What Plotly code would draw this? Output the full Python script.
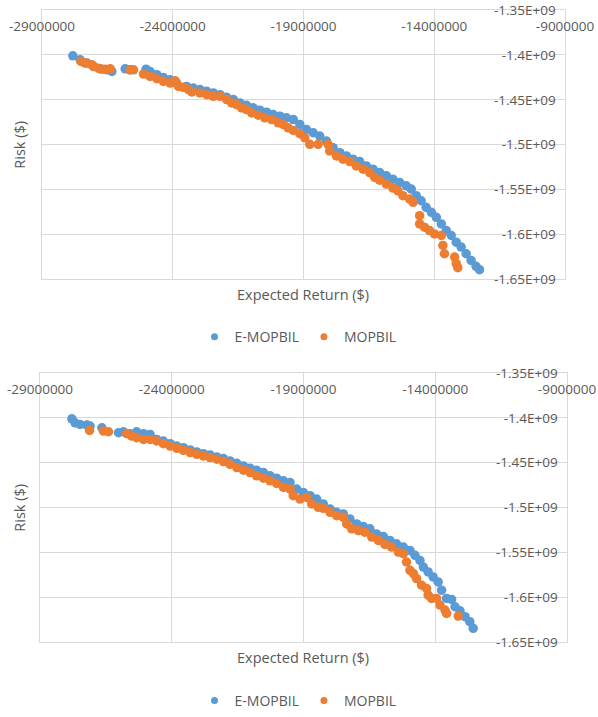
import plotly.graph_objects as go

# ---- upper panel: expected return ($) vs risk ($) ----
emop_ret_a = [-27.82e6, -27.54e6, -27.28e6, -27.03e6, -26.77e6, -26.52e6, -26.33e6, -25.82e6, -25.63e6,
              -25.02e6, -24.87e6, -24.61e6, -24.36e6, -24.10e6, -23.85e6, -23.47e6, -23.21e6, -22.96e6,
              -22.70e6, -22.45e6, -22.19e6, -21.94e6, -21.68e6, -21.43e6, -21.18e6, -20.92e6, -20.67e6,
              -20.41e6, -20.16e6, -19.90e6, -19.65e6, -19.39e6, -19.14e6, -18.89e6, -18.63e6, -18.38e6,
              -18.12e6, -17.87e6, -17.61e6, -17.36e6, -17.10e6, -16.85e6, -16.60e6, -16.34e6, -16.09e6,
              -15.83e6, -15.58e6, -15.32e6, -15.07e6, -14.88e6, -14.69e6, -14.50e6, -14.31e6, -14.11e6,
              -13.92e6, -13.73e6, -13.54e6, -13.35e6, -13.16e6, -12.97e6, -12.78e6, -12.59e6, -12.40e6,
              -12.27e6]
emop_risk_a = [-1.4011e9, -1.4055e9, -1.4092e9, -1.4129e9, -1.4155e9, -1.4166e9, -1.4185e9, -1.4155e9, -1.4166e9,
               -1.4159e9, -1.4185e9, -1.4221e9, -1.4251e9, -1.4277e9, -1.4314e9, -1.4351e9, -1.4369e9, -1.4387e9,
               -1.4406e9, -1.4424e9, -1.4443e9, -1.4472e9, -1.4498e9, -1.4535e9, -1.4561e9, -1.4590e9, -1.4616e9,
               -1.4638e9, -1.4664e9, -1.4683e9, -1.4701e9, -1.4720e9, -1.4775e9, -1.4830e9, -1.4867e9, -1.4904e9,
               -1.4959e9, -1.5033e9, -1.5089e9, -1.5125e9, -1.5162e9, -1.5188e9, -1.5236e9, -1.5273e9, -1.5310e9,
               -1.5347e9, -1.5384e9, -1.5421e9, -1.5458e9, -1.5494e9, -1.5568e9, -1.5624e9, -1.5697e9, -1.5753e9,
               -1.5808e9, -1.5882e9, -1.5956e9, -1.6011e9, -1.6085e9, -1.6140e9, -1.6214e9, -1.6288e9, -1.6354e9,
               -1.6391e9]

mop_ret_a = [-27.51e6, -27.35e6, -27.09e6, -27.03e6, -26.84e6, -26.71e6, -26.58e6, -26.39e6, -25.63e6,
             -25.50e6, -25.12e6, -24.87e6, -24.61e6, -24.36e6, -24.10e6, -23.91e6, -23.78e6, -23.59e6,
             -23.40e6, -23.27e6, -22.96e6, -22.70e6, -22.45e6, -22.19e6, -21.94e6, -21.75e6, -21.56e6,
             -21.37e6, -21.18e6, -20.98e6, -20.73e6, -20.48e6, -20.22e6, -19.97e6, -19.78e6, -19.59e6,
             -19.39e6, -19.14e6, -18.95e6, -18.76e6, -18.44e6, -18.06e6, -18.00e6, -17.74e6, -17.49e6,
             -17.23e6, -16.98e6, -16.72e6, -16.47e6, -16.28e6, -16.09e6, -15.83e6, -15.58e6, -15.39e6,
             -15.20e6, -14.94e6, -14.81e6, -14.56e6, -14.56e6, -14.37e6, -14.18e6, -13.99e6, -13.73e6,
             -13.67e6, -13.61e6, -13.22e6, -13.16e6, -13.10e6]
mop_risk_a = [-1.4074e9, -1.4092e9, -1.4111e9, -1.4129e9, -1.4148e9, -1.4159e9, -1.4159e9, -1.4155e9, -1.4166e9,
              -1.4166e9, -1.4214e9, -1.4240e9, -1.4266e9, -1.4295e9, -1.4314e9, -1.4288e9, -1.4351e9, -1.4362e9,
              -1.4387e9, -1.4413e9, -1.4424e9, -1.4443e9, -1.4461e9, -1.4461e9, -1.4498e9, -1.4535e9, -1.4554e9,
              -1.4590e9, -1.4609e9, -1.4646e9, -1.4672e9, -1.4701e9, -1.4720e9, -1.4756e9, -1.4775e9, -1.4812e9,
              -1.4841e9, -1.4878e9, -1.4923e9, -1.4996e9, -1.4996e9, -1.4996e9, -1.5070e9, -1.5125e9, -1.5162e9,
              -1.5188e9, -1.5236e9, -1.5273e9, -1.5310e9, -1.5365e9, -1.5395e9, -1.5439e9, -1.5483e9, -1.5513e9,
              -1.5568e9, -1.5605e9, -1.5642e9, -1.5790e9, -1.5882e9, -1.5919e9, -1.5956e9, -1.5993e9, -1.6011e9,
              -1.6122e9, -1.6214e9, -1.6251e9, -1.6325e9, -1.6369e9]

# ---- lower panel ----
emop_ret_b = [-27.79e6, -27.67e6, -27.48e6, -27.22e6, -27.10e6, -26.65e6, -26.02e6, -25.83e6, -25.58e6,
              -25.33e6, -25.07e6, -24.82e6, -24.57e6, -24.32e6, -24.06e6, -23.81e6, -23.56e6, -23.30e6,
              -23.05e6, -22.80e6, -22.55e6, -22.29e6, -22.04e6, -21.79e6, -21.53e6, -21.28e6, -21.03e6,
              -20.78e6, -20.52e6, -20.27e6, -20.02e6, -19.76e6, -19.51e6, -19.26e6, -19.01e6, -18.75e6,
              -18.50e6, -18.25e6, -17.99e6, -17.74e6, -17.49e6, -17.24e6, -16.98e6, -16.73e6, -16.48e6,
              -16.23e6, -15.97e6, -15.72e6, -15.47e6, -15.21e6, -14.96e6, -14.77e6, -14.58e6, -14.45e6,
              -14.27e6, -14.08e6, -13.89e6, -13.76e6, -13.57e6, -13.38e6, -13.25e6, -13.06e6, -12.87e6,
              -12.69e6, -12.56e6]
emop_risk_b = [-1.4011e9, -1.4055e9, -1.4074e9, -1.4081e9, -1.4092e9, -1.4111e9, -1.4166e9, -1.4155e9, -1.4177e9,
               -1.4155e9, -1.4177e9, -1.4185e9, -1.4240e9, -1.4258e9, -1.4288e9, -1.4314e9, -1.4332e9, -1.4358e9,
               -1.4380e9, -1.4399e9, -1.4413e9, -1.4435e9, -1.4454e9, -1.4480e9, -1.4506e9, -1.4535e9, -1.4561e9,
               -1.4583e9, -1.4609e9, -1.4646e9, -1.4672e9, -1.4701e9, -1.4720e9, -1.4793e9, -1.4830e9, -1.4867e9,
               -1.4904e9, -1.4959e9, -1.5015e9, -1.5052e9, -1.5070e9, -1.5125e9, -1.5181e9, -1.5210e9, -1.5236e9,
               -1.5292e9, -1.5321e9, -1.5365e9, -1.5402e9, -1.5439e9, -1.5476e9, -1.5531e9, -1.5587e9, -1.5661e9,
               -1.5716e9, -1.5771e9, -1.5827e9, -1.5919e9, -1.6011e9, -1.6022e9, -1.6103e9, -1.6148e9, -1.6214e9,
               -1.6269e9, -1.6343e9]

mop_ret_b = [-27.12e6, -26.59e6, -26.40e6, -25.71e6, -25.52e6, -25.33e6, -25.07e6, -24.82e6, -24.57e6,
             -24.32e6, -24.06e6, -23.81e6, -23.56e6, -23.30e6, -23.05e6, -22.80e6, -22.55e6, -22.29e6,
             -22.04e6, -21.79e6, -21.53e6, -21.28e6, -21.03e6, -20.78e6, -20.52e6, -20.27e6, -20.02e6,
             -19.76e6, -19.51e6, -19.39e6, -19.13e6, -18.88e6, -18.69e6, -18.44e6, -18.25e6, -17.99e6,
             -17.74e6, -17.49e6, -17.36e6, -17.17e6, -16.92e6, -16.67e6, -16.41e6, -16.16e6, -15.91e6,
             -15.66e6, -15.40e6, -15.21e6, -15.09e6, -14.96e6, -14.83e6, -14.71e6, -14.52e6, -14.33e6,
             -14.27e6, -14.14e6, -13.95e6, -13.82e6, -13.63e6, -13.57e6, -13.13e6]
mop_risk_b = [-1.4140e9, -1.4148e9, -1.4155e9, -1.4177e9, -1.4203e9, -1.4221e9, -1.4240e9, -1.4240e9, -1.4258e9,
              -1.4288e9, -1.4314e9, -1.4339e9, -1.4362e9, -1.4387e9, -1.4406e9, -1.4424e9, -1.4443e9, -1.4461e9,
              -1.4487e9, -1.4517e9, -1.4554e9, -1.4583e9, -1.4609e9, -1.4646e9, -1.4672e9, -1.4701e9, -1.4731e9,
              -1.4775e9, -1.4793e9, -1.4867e9, -1.4904e9, -1.4886e9, -1.4959e9, -1.4996e9, -1.5007e9, -1.5052e9,
              -1.5089e9, -1.5107e9, -1.5181e9, -1.5236e9, -1.5255e9, -1.5273e9, -1.5328e9, -1.5365e9, -1.5410e9,
              -1.5439e9, -1.5494e9, -1.5513e9, -1.5605e9, -1.5697e9, -1.5734e9, -1.5790e9, -1.5863e9, -1.5900e9,
              -1.5974e9, -1.6011e9, -1.6011e9, -1.6085e9, -1.6140e9, -1.6177e9, -1.6207e9]

# axis ticks
x_ticks = [-29000000, -24000000, -19000000, -14000000, -9000000]
x_tick_text = ["-29000000", "-24000000", "-19000000", "-14000000", "-9000000"]
y_ticks = [-1.65e9, -1.6e9, -1.55e9, -1.5e9, -1.45e9, -1.4e9, -1.35e9]
y_tick_text = ["-1.65E+09", "-1.6E+09", "-1.55E+09", "-1.5E+09", "-1.45E+09", "-1.4E+09", "-1.35E+09"]

series_names = ["E-MOPBIL", "MOPBIL"]
series_colors = ["#5B9BD5", "#ED7D31"]

W, H = 598, 717
FONT = "Open Sans"
TXT = "#595959"
GRID = "#D9D9D9"


def px_x(p):
    return p / W


def px_y(p):
    return 1 - p / H


fig = go.Figure()

panels = [
    dict(xa="x", ya="y", legend="legend", data=[(emop_ret_a, emop_risk_a), (mop_ret_a, mop_risk_a)]),
    dict(xa="x2", ya="y2", legend="legend2", data=[(emop_ret_b, emop_risk_b), (mop_ret_b, mop_risk_b)]),
]

for pn in panels:
    for (xs, ys), name, col in zip(pn["data"], series_names, series_colors):
        fig.add_trace(go.Scatter(
            x=xs, y=ys, mode="markers", name=name, xaxis=pn["xa"], yaxis=pn["ya"],
            marker=dict(size=9.5, color=col, line=dict(width=0)), showlegend=False))
    # small legend symbols
    for name, col in zip(series_names, series_colors):
        fig.add_trace(go.Scatter(
            x=[None], y=[None], mode="markers", name=name, xaxis=pn["xa"], yaxis=pn["ya"],
            marker=dict(size=7, color=col), legend=pn["legend"], showlegend=True))

# plot-area geometry (pixels)
areas = [dict(l=42, r=565, t=10, b=281), dict(l=40, r=567, t=375, b=646)]

axis_common = dict(showgrid=True, gridcolor=GRID, gridwidth=1, zeroline=False, automargin=False,
                   showline=True, linecolor=GRID, linewidth=1, mirror=True,
                   ticks="", ticklabelposition="inside", ticklabeloverflow="allow",
                   tickfont=dict(family=FONT, size=13.5, color=TXT), fixedrange=True)

for i, a in enumerate(areas):
    sfx = "" if i == 0 else str(i + 1)
    fig.update_layout(**{
        "xaxis" + sfx: dict(axis_common, domain=[px_x(a["l"]), px_x(a["r"])], range=[-29e6, -9e6],
                            side="top", tickmode="array", tickvals=x_ticks, ticktext=x_tick_text,
                            ticklabelstandoff=11, anchor="y" + sfx),
        "yaxis" + sfx: dict(axis_common, domain=[px_y(a["b"]), px_y(a["t"])], range=[-1.65e9, -1.35e9],
                            side="right", tickmode="array", tickvals=y_ticks, ticktext=y_tick_text,
                            ticklabelstandoff=9, anchor="x" + sfx),
    })

annotations = []
for a, title_y in zip(areas, [296, 661]):
    annotations.append(dict(text="Risk ($)", textangle=-90, x=px_x(20), y=px_y((a["t"] + a["b"]) / 2),
                            xref="paper", yref="paper", xanchor="center", yanchor="middle",
                            showarrow=False, font=dict(family=FONT, size=14.5, color=TXT)))
    annotations.append(dict(text="Expected Return ($)", x=px_x(303), y=px_y(title_y),
                            xref="paper", yref="paper", xanchor="center", yanchor="middle",
                            showarrow=False, font=dict(family=FONT, size=14.5, color=TXT)))

legend_style = dict(orientation="h", xanchor="center", yanchor="middle", x=px_x(298),
                    font=dict(family=FONT, size=14, color=TXT), bgcolor="rgba(0,0,0,0)",
                    itemwidth=30, tracegroupgap=0)

fig.update_layout(
    width=W, height=H, margin=dict(l=0, r=0, t=0, b=0),
    paper_bgcolor="white", plot_bgcolor="white",
    annotations=annotations,
    legend=dict(legend_style, y=px_y(339)),
    legend2=dict(legend_style, y=px_y(705)),
)

fig.write_html("out.html")
